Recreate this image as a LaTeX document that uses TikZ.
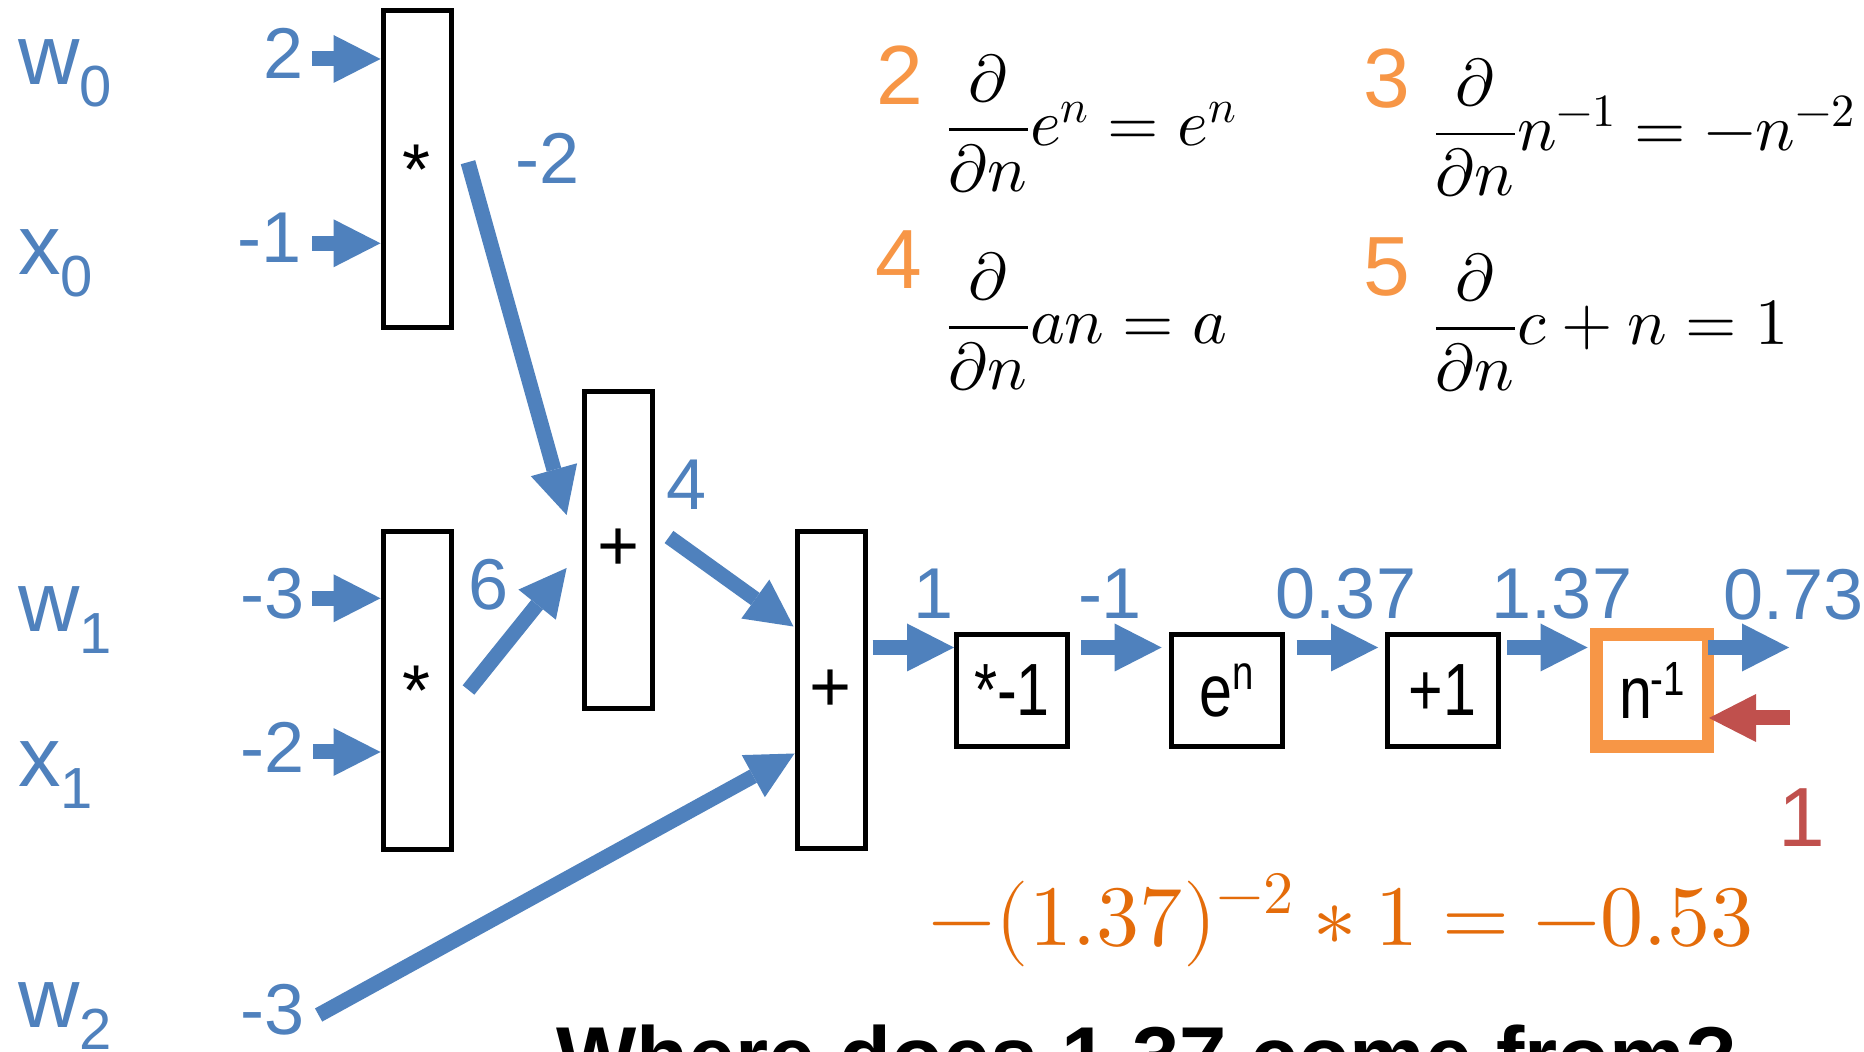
\documentclass[tikz,border=0pt]{standalone}
\usepackage{fontspec}
\usepackage{unicode-math}
\newfontfamily\arial{Liberation Sans}
\usetikzlibrary{arrows.meta,calc}
\definecolor{pblue}{HTML}{4F81BD}
\definecolor{porange}{HTML}{F79646}
\definecolor{dorange}{HTML}{E46C0A}
\definecolor{pred}{HTML}{C0504D}
\newcommand{\myfs}[1]{\fontsize{#1}{#1}\selectfont}
\newcommand{\cond}[1]{\scalebox{0.8}[1]{#1}}
\begin{document}
\begin{tikzpicture}[x=0.5pt,y=-0.5pt,
  opbox/.style={draw=black, line width=2.5pt, minimum width=34pt, minimum height=158.5pt, inner sep=0pt, font={\arial\myfs{36}}},
  chbox/.style={draw=black, line width=2.5pt, minimum width=55.5pt, minimum height=56pt, inner sep=0pt, font={\arial\myfs{37}}},
  val/.style={text=pblue, inner sep=0pt, font={\arial\myfs{36}}},
  var/.style={text=pblue, inner sep=0pt, anchor=base west, font={\arial\myfs{42.5}}},
  num/.style={text=porange, inner sep=0pt, font={\arial\myfs{42}}},
  eq/.style={inner sep=0pt, anchor=base west, font=\myfs{33}},
  barrow/.style={draw=pblue, line width=7.5pt, -{Triangle[length=23.5pt,width=24pt,line width=0pt]}},
  rarrow/.style={barrow, draw=pred}]
\useasboundingbox (0,0) rectangle (1864,1052);
\clip (0,0) rectangle (1864,1052);
\fill[white] (0,0) rectangle (1864,1052);

% operation boxes
\node[opbox] (m0) at (417,169.5) {*};
\node[opbox, minimum height=159pt] (m1) at (417,690.8) {*};
\node[opbox] (a0) at (618.5,549.7) {+};
\node[opbox] (a1) at (831,690.5) {+};
\node[chbox] (c1) at (1012,690.5) {\cond{*-1}};
\node[chbox] (c2) at (1226.6,690.5) {\cond{e\raisebox{13.5pt}{\myfs{24}n}}};
\node[chbox] (c3) at (1442.6,690.5) {\cond{+1}};
\node[chbox, draw=porange, line width=6.25pt, minimum width=55.75pt] (c4) at (1652,690.5) {\cond{n\kern-1pt\raisebox{11.5pt}{\myfs{24}-1}}};

% variables
\node[var] (w0) at (18,85) {w\raisebox{-11pt}{\myfs{29}0}};
\node[var] (x0) at (18,275) {x\raisebox{-11pt}{\myfs{29}0}};
\node[var] (w1) at (18,632) {w\raisebox{-11pt}{\myfs{29}1}};
\node[var] (x1) at (18,787) {x\raisebox{-11pt}{\myfs{29}1}};
\node[var] (w2) at (18,1027) {w\raisebox{-11pt}{\myfs{29}2}};

% values
\node[val] (l1) at (284,53.5) {2};
\node[val] (l2) at (270,238) {-1};
\node[val] (l3) at (273,594) {-3};
\node[val] (l4) at (272.5,747.5) {-2};
\node[val] (l5) at (272.5,1010) {-3};
\node[val] (g0) at (548,158) {-2};
\node[val] (g1) at (488.5,584.5) {6};
\node[val] (g2) at (687,485) {4};
\node[val] (h1) at (934,593.5) {1};
\node[val] (h2) at (1110,593.5) {-1};
\node[val] (h3) at (1346,593.5) {0.37};
\node[val] (h4) at (1562,593.5) {1.37};
\node[val, anchor=west] (h5) at (1723,595) {0.73};
\node[text=pred, inner sep=0pt, font={\arial\myfs{42}}] (r1) at (1802,818) {1};

% derivative rules
\node[num] (n2) at (900,75.5) {2};
\node[num] (n3) at (1387,78.5) {3};
\node[num] (n4) at (898.5,259.5) {4};
\node[num] (n5) at (1387,267) {5};
\node[eq] (f2) at (946,146) {$\displaystyle\frac{\partial}{\partial n}e^n=e^n$};
\node[eq] (f3) at (1433,150.5) {$\displaystyle\frac{\partial}{\partial n}n^{-1}=-n^{-2}$};
\node[eq] (f4) at (946,344) {$\displaystyle\frac{\partial}{\partial n}an=a$};
\node[eq] (f5) at (1433,345) {$\displaystyle\frac{\partial}{\partial n}c+n=1$};

\node[inner sep=0pt, anchor=base, text=dorange, font=\myfs{43}] (res) at (1341,945) {$-(1.37)^{-2}\ast 1=-0.53$};
\node[inner sep=0pt, anchor=base west, font={\arial\bfseries\myfs{42.5}}] (q) at (556,1086) {Where does 1.37 come from?};

% input arrows
\coordinate (s1) at (312,59);
\coordinate (s2) at (312,243.3);
\coordinate (s3) at (312,598.3);
\coordinate (s4) at (313,752);
\coordinate (s5) at (318.6,1015);
\draw[barrow] (s1) -- (m0.west |- s1);
\draw[barrow] (s2) -- (m0.west |- s2);
\draw[barrow] (s3) -- (m1.west |- s3);
\draw[barrow] (s4) -- (m1.west |- s4);
\draw[barrow] (s5) -- ($(a1.north west)+(0,224)$);

% internal arrows
\draw[barrow] ($(m0.north east)+(14.5,153.7)$) -- ($(a0.north west)+(-15.4,126.3)$);
\draw[barrow] ($(m1.east)+(15,-0.8)$) -- ($(a0.north west)+(-15.4,179.3)$);
\draw[barrow] ($(a0.north east)+(14,148.3)$) -- ($(a1.north west)+(-1,97)$);

% chain arrows
\coordinate (lv) at (0,647.5);
\coordinate (e5) at (1789,647.5);
\coordinate (rt) at (1790,718);
\draw[barrow, shorten <=2.5pt] (a1.east |- lv) -- (c1.west |- lv);
\draw[barrow, shorten <=5.5pt, shorten >=3.5pt] (c1.east |- lv) -- (c2.west |- lv);
\draw[barrow, shorten <=6pt, shorten >=3.3pt] (c2.east |- lv) -- (c3.west |- lv);
\draw[barrow, shorten <=3.2pt, shorten >=1.25pt] (c3.east |- lv) -- (c4.west |- lv);
\draw[barrow, shorten <=-3pt] (c4.east |- lv) -- (e5);
\draw[rarrow, shorten >=-2.5pt] (rt) -- (c4.east |- rt);
\end{tikzpicture}
\end{document}
